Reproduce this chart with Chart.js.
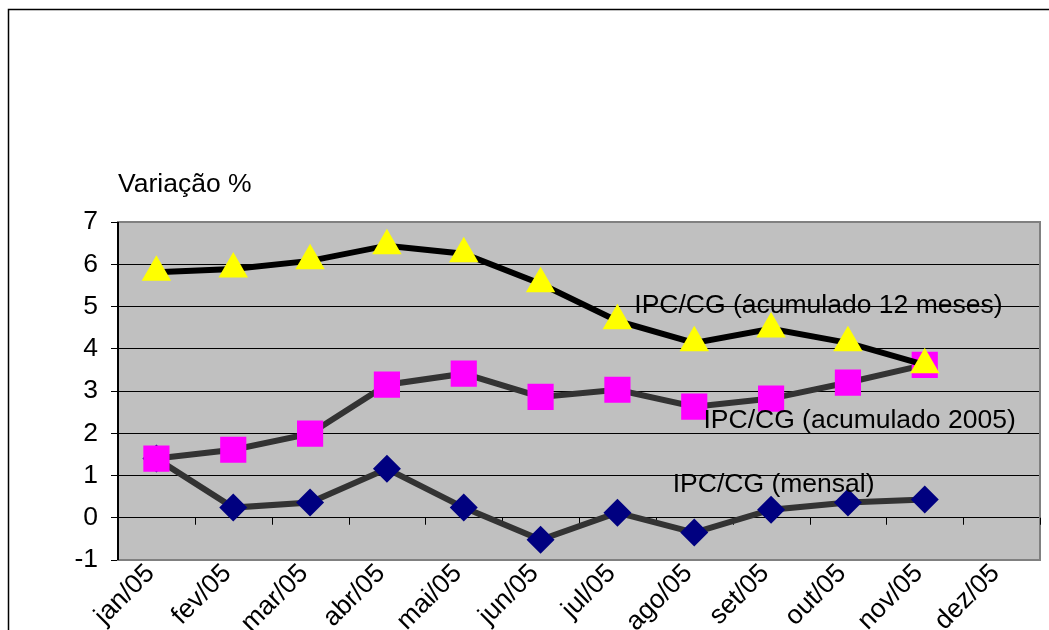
<!DOCTYPE html>
<html>
<head>
<meta charset="utf-8">
<script src="https://cdn.jsdelivr.net/npm/chart.js@4.4.1/dist/chart.umd.min.js"></script>
<style>
  body { margin: 0; background: #fff; }
  #wrap { width: 1049px; height: 630px; }
</style>
</head>
<body>
<div id="wrap"><canvas id="canvas" width="1049" height="630"></canvas></div>
<script>
// meses
var meses = ['jan/05', 'fev/05', 'mar/05', 'abr/05', 'mai/05', 'jun/05',
             'jul/05', 'ago/05', 'set/05', 'out/05', 'nov/05', 'dez/05'];

// IPC/CG - variação %
var acum12 = [5.81, 5.89, 6.08, 6.44, 6.25, 5.54, 4.66, 4.14, 4.47, 4.14, 3.62, null];
var acum2005 = [1.40, 1.61, 1.99, 3.15, 3.41, 2.86, 3.03, 2.63, 2.82, 3.20, 3.62, null];
var mensal = [1.40, 0.24, 0.36, 1.16, 0.24, -0.52, 0.12, -0.35, 0.19, 0.36, 0.43, null];

var yTicks = [-1, 0, 1, 2, 3, 4, 5, 6, 7];

// rótulos das séries (posição em índice de categoria / valor)
var rotulos = ['IPC/CG (acumulado 12 meses)', 'IPC/CG (acumulado 2005)', 'IPC/CG (mensal)'];
var rotuloX = [6.22, 7.12, 6.72];
var rotuloY = [5.02, 2.30, 0.78];

var fonte = '"Liberation Sans", Arial, sans-serif';
var tam = 26.5;

var decoracao = {
  id: 'decoracao',
  beforeDraw: function(chart) {
    var ctx = chart.ctx, a = chart.chartArea;
    ctx.save();
    // moldura externa
    ctx.strokeStyle = '#000';
    ctx.lineWidth = 1.5;
    ctx.strokeRect(8.5, 9.5, 2000, 2000);
    // fundo cinza
    ctx.fillStyle = '#C0C0C0';
    ctx.fillRect(a.left, a.top, a.right - a.left, a.bottom - a.top);
    ctx.restore();
  },
  beforeDatasetsDraw: function(chart) {
    var ctx = chart.ctx, a = chart.chartArea;
    var xs = chart.scales.x, ys = chart.scales.y;
    ctx.save();
    // borda da área
    ctx.strokeStyle = '#808080';
    ctx.lineWidth = 2;
    ctx.strokeRect(a.left, a.top, a.right - a.left, a.bottom - a.top);
    // eixo y
    ctx.strokeStyle = '#000';
    ctx.beginPath();
    ctx.moveTo(a.left, a.top);
    ctx.lineTo(a.left, a.bottom);
    ctx.stroke();
    // eixo x no zero com marcas
    var y0 = ys.getPixelForValue(0);
    ctx.lineWidth = 1;
    ctx.beginPath();
    for (var i = 0; i <= meses.length; i++) {
      var x = Math.round(xs.getPixelForValue(i - 0.5)) + 0.5;
      ctx.moveTo(x, y0);
      ctx.lineTo(x, y0 + 7);
    }
    ctx.stroke();
    ctx.restore();
  },
  afterDraw: function(chart) {
    var ctx = chart.ctx, a = chart.chartArea;
    var xs = chart.scales.x, ys = chart.scales.y;
    ctx.save();
    ctx.fillStyle = '#000';
    ctx.font = tam + 'px ' + fonte;
    ctx.textBaseline = 'middle';
    ctx.textAlign = 'left';
    ctx.fillText('Variação %', a.left, a.top - 37);
    for (var i = 0; i < rotulos.length; i++) {
      ctx.fillText(rotulos[i], xs.getPixelForValue(rotuloX[i]), ys.getPixelForValue(rotuloY[i]));
    }
    ctx.restore();
  }
};

var config = {
  type: 'line',
  data: {
    labels: meses,
    datasets: [{
      label: 'IPC/CG (acumulado 12 meses)',
      data: acum12,
      borderColor: '#000000',
      borderWidth: 6,
      pointStyle: 'triangle',
      pointRadius: 17,
      pointBackgroundColor: '#FFFF00',
      pointBorderColor: '#FFFF00',
      pointBorderWidth: 0,
      tension: 0
    }, {
      label: 'IPC/CG (acumulado 2005)',
      data: acum2005,
      borderColor: '#333333',
      borderWidth: 6,
      pointStyle: 'rect',
      pointRadius: 18.5,
      pointBackgroundColor: '#FF00FF',
      pointBorderColor: '#FF00FF',
      pointBorderWidth: 0,
      tension: 0
    }, {
      label: 'IPC/CG (mensal)',
      data: mensal,
      borderColor: '#333333',
      borderWidth: 6,
      pointStyle: 'rectRot',
      pointRadius: 14,
      pointBackgroundColor: '#000080',
      pointBorderColor: '#000080',
      pointBorderWidth: 0,
      tension: 0
    }]
  },
  options: {
    responsive: false,
    animation: false,
    layout: { autoPadding: false, padding: { top: 222, right: 9, left: 0, bottom: 0 } },
    plugins: {
      legend: { display: false },
      tooltip: { enabled: false },
      title: { display: false }
    },
    scales: {
      x: {
        offset: true,
        grid: { display: false, offset: true },
        border: { display: false },
        ticks: {
          color: '#000',
          font: { family: fonte, size: tam },
          minRotation: 45,
          maxRotation: 45,
          padding: -10,
          labelOffset: -6
        },
        afterFit: function(s) {
          s.height = 70;
          s.paddingLeft = 0;
          s.paddingRight = 0;
        }
      },
      y: {
        min: -1,
        max: 7,
        afterBuildTicks: function(s) {
          s.ticks = yTicks.map(function(v) { return { value: v }; });
        },
        grid: { color: '#000', lineWidth: 1, tickLength: 7, drawTicks: true },
        border: { display: false },
        ticks: {
          color: '#000',
          font: { family: fonte, size: tam },
          padding: 13
        },
        afterFit: function(s) { s.width = 118; }
      }
    }
  },
  plugins: [decoracao]
};

var ctx = document.getElementById('canvas').getContext('2d');
window.myLine = new Chart(ctx, config);
</script>
</body>
</html>
